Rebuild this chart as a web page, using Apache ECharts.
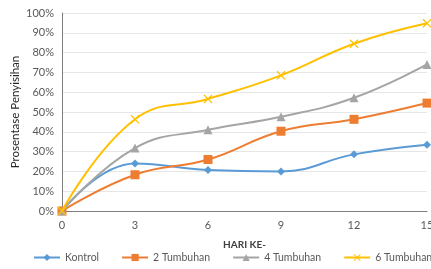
<!DOCTYPE html>
<html><head><meta charset="utf-8">
<script src="https://cdn.jsdelivr.net/npm/echarts@6/dist/echarts.min.js"></script>
<style>html,body{margin:0;padding:0;background:#fff}#c{width:431px;height:269px}</style>
</head><body><div id="c"></div>
<script>
var days = [0, 3, 6, 9, 12, 15];
var seriesNames = ['Kontrol', '2 Tumbuhan', '4 Tumbuhan', '6 Tumbuhan'];
var kontrol = [0, 24, 20.7, 20, 28.6, 33.5];
var tumbuhan2 = [0, 18.3, 26, 40.3, 46.3, 54.5];
var tumbuhan4 = [0, 31.8, 41, 47.6, 57.2, 74];
var tumbuhan6 = [0, 46.3, 56.6, 68.5, 84.5, 94.8];
var xTitle = 'HARI KE-';
var yTitle = 'Prosentase Penyisihan';

var colors = ['#5B9BD5', '#ED7D31', '#A5A5A5', '#FFC000'];
var symbols = ['diamond', 'rect', 'triangle', 'path://M1,0L5,4L9,0L10,1L6,5L10,9L9,10L5,6L1,10L0,9L4,5L0,1Z'];
var sizes = [8, 9, 9, 9];
var allData = [kontrol, tumbuhan2, tumbuhan4, tumbuhan6];
var font = 'Lato, "Open Sans", sans-serif';

var series = allData.map(function (vals, i) {
  return {
    name: seriesNames[i], type: 'line', smooth: 0.45,
    xAxisIndex: 0, yAxisIndex: 0,
    data: days.map(function (d, j) { return [d, vals[j]]; }),
    symbol: symbols[i], symbolSize: sizes[i],
    lineStyle: { color: colors[i], width: 2 },
    itemStyle: { color: colors[i] },
    z: 2 + i
  };
});

var chart = echarts.init(document.getElementById('c'));
chart.setOption({
  animation: false,
  color: colors,
  grid: { left: 62, right: 4, top: 13, bottom: 58, containLabel: false, outerBoundsMode: 'none' },
  legend: {
    left: 28, bottom: 1, width: 700, itemWidth: 26, itemHeight: 9, itemGap: 22,
    textStyle: { fontFamily: font, fontSize: 10.5, color: '#595959' },
    data: seriesNames
  },
  xAxis: [{
    type: 'value', min: 0, max: 15, interval: 3,
    name: xTitle, nameLocation: 'middle', nameGap: 29, nameMoveOverlap: false,
    nameTextStyle: { fontFamily: font, fontSize: 10, color: '#404040', fontWeight: 'bold' },
    axisLine: { show: true, lineStyle: { color: '#D9D9D9' } },
    axisTick: { show: false },
    axisLabel: { fontFamily: font, fontSize: 11, color: '#595959', margin: 9 },
    splitLine: { show: false }
  }, {
    type: 'value', min: 0, max: 15, position: 'top',
    axisLine: { show: true, lineStyle: { color: '#7F7F7F', width: 1 } },
    axisTick: { show: false }, axisLabel: { show: false }, splitLine: { show: false }
  }],
  yAxis: [{
    type: 'value', min: 0, max: 100, interval: 10,
    name: yTitle, nameLocation: 'middle', nameGap: 41, nameMoveOverlap: false,
    nameTextStyle: { fontFamily: font, fontSize: 11.5, color: '#262626' },
    axisLine: { show: false }, axisTick: { show: false },
    axisLabel: { fontFamily: font, fontSize: 11, color: '#595959', margin: 8, formatter: '{value}%' },
    splitLine: { lineStyle: { color: '#E6E6E6' } }
  }, {
    type: 'value', min: 0, max: 100, position: 'right',
    axisLine: { show: true, lineStyle: { color: '#7F7F7F', width: 1 } },
    axisTick: { show: false }, axisLabel: { show: false }, splitLine: { show: false }
  }],
  series: series
});
</script></body></html>
